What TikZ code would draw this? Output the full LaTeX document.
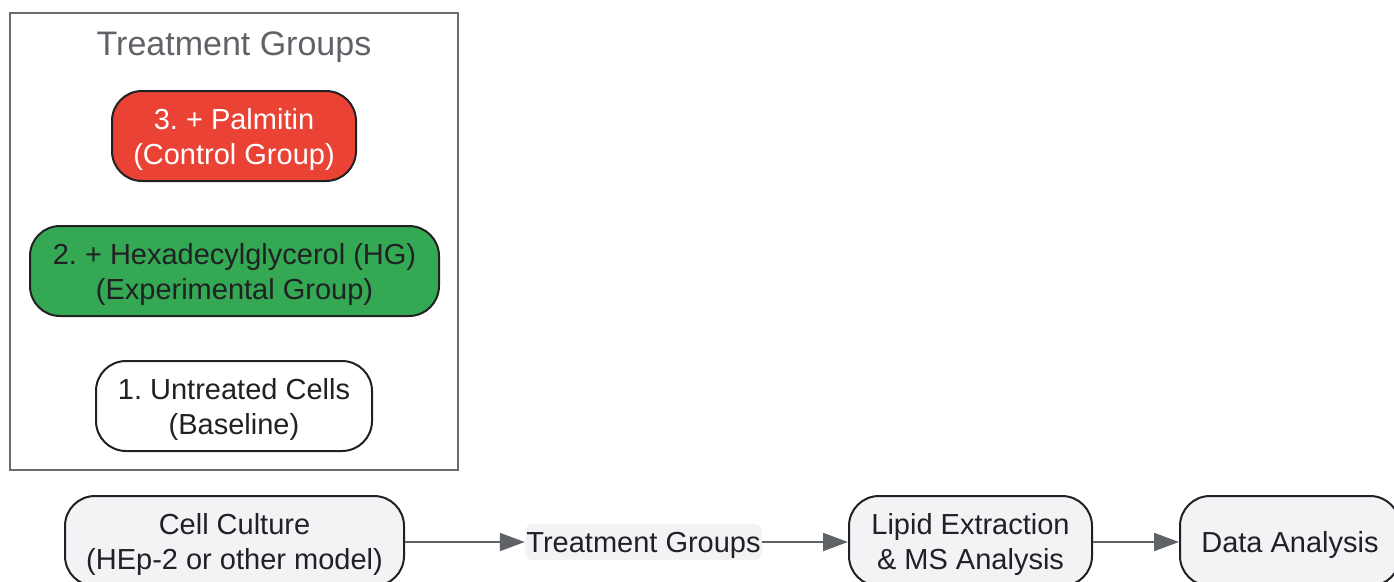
\documentclass[tikz,border=0pt]{standalone}
\usepackage{fontspec}
\setmainfont{Liberation Sans}
\usetikzlibrary{arrows.meta}
\frenchspacing
\definecolor{edgegray}{HTML}{5F6368}
\definecolor{framegray}{HTML}{6B6B6B}
\definecolor{nodeline}{HTML}{202124}
\definecolor{lightfill}{HTML}{F1F3F4}
\definecolor{redfill}{HTML}{EA4335}
\definecolor{greenfill}{HTML}{34A853}
\newcommand{\topstrut}{\rule{0pt}{28pt}}
\tikzset{
  box/.style={draw=nodeline, line width=2pt, rounded corners=30pt, align=center,
    inner sep=0pt, minimum height=90pt, text=nodeline,
    font=\fontsize{29}{35}\selectfont},
  flowarrow/.style={draw=edgegray, line width=2pt, -{Triangle[length=25pt,width=18pt]}},
}
\begin{document}
\begin{tikzpicture}[x=1pt,y=-1pt]
\useasboundingbox (0,0) rectangle (1394,581);
\fill[white] (0,0) rectangle (1394,581);
% group frame
\draw[framegray, line width=2pt] (10,13) rectangle (458,470);
\node[text=edgegray, font=\fontsize{34}{40}\selectfont] (title) at (234,47.5) {Treatment Groups};
\node[box, fill=redfill, text=white, minimum width=244pt] (palm) at (234,136) {\topstrut3. + Palmitin\\(Control Group)};
\node[box, fill=greenfill, minimum width=409pt] (hg) at (234.5,271) {\topstrut2. + Hexadecylglycerol (HG)\\(Experimental Group)};
\node[box, fill=white, minimum width=276pt] (untr) at (234,406) {\topstrut1. Untreated Cells\\(Baseline)};
% bottom row
\node[box, fill=lightfill, minimum width=339pt] (cc) at (234.5,541) {\topstrut Cell Culture\\(HEp-2 or other model)};
\node[fill=lightfill, rounded corners=8pt, inner sep=0pt, minimum width=237pt, minimum height=36pt, text=nodeline, font=\fontsize{29}{35}\selectfont] (tg) at (643.5,542) {\topstrut Treatment Groups};
\node[box, fill=lightfill, minimum width=243pt] (lipid) at (970.5,541) {\topstrut Lipid Extraction\\\& MS Analysis};
\node[box, fill=lightfill, minimum width=220pt] (data) at (1290,541) {\topstrut Data Analysis};
\draw[flowarrow] (cc.east |- 0,542) -- (tg.west);
\draw[flowarrow] (tg.east) -- (lipid.west |- 0,542);
\draw[flowarrow] (lipid.east |- 0,542) -- (data.west |- 0,542);
\end{tikzpicture}
\end{document}
